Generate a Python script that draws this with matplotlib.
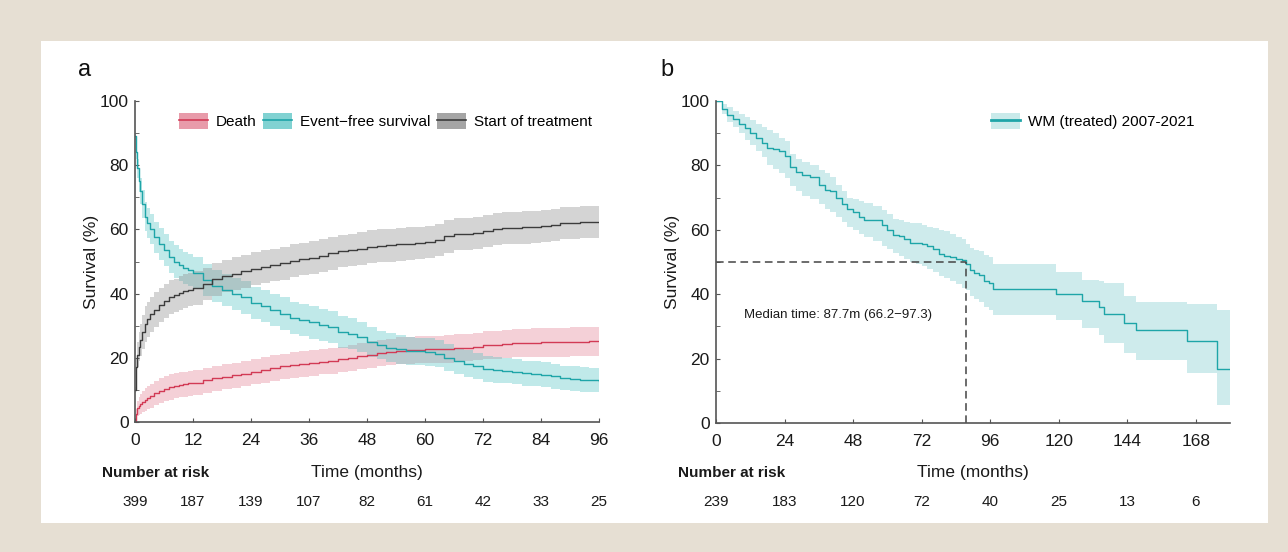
import matplotlib.pyplot as plt
from matplotlib.patches import Patch, Rectangle
from matplotlib.lines import Line2D
import numpy as np

plt.rcParams.update({
    'font.family': ['Liberation Sans', 'DejaVu Sans'],
    'font.size': 11,
})

# panel a: cumulative curves (%)
t_a = [0, 0.25, 0.5, 0.75, 1, 1.5, 2, 2.5, 3, 4, 5, 6, 7, 8, 9, 10, 11, 12,
       14, 16, 18, 20, 22, 24, 26, 28, 30, 32, 34, 36, 38, 40, 42, 44, 46, 48, 50, 52, 54, 56,
       58, 60, 62, 64, 66, 68, 70, 72, 74, 76, 78, 80, 82, 84, 86, 88, 90, 92, 94, 96]
death = [0, 2.5, 4.3, 5, 5.6, 6.3, 7, 7.5, 8, 9, 9.8, 10.4, 10.9, 11.3, 11.6, 11.8, 12, 12.2,
         13, 13.6, 14.1, 14.5, 15, 15.6, 16.3, 16.9, 17.3, 17.8, 18.1, 18.4, 18.8, 19.1, 19.5, 20, 20.5, 21, 21.5, 21.9, 22.2, 22.4,
         22.5, 22.6, 22.7, 22.8, 23, 23.2, 23.5, 23.9, 24.1, 24.3, 24.5, 24.6, 24.7, 24.8, 24.9, 24.9, 25, 25, 25.1, 25.1]
death_hw = [0, 1.5, 2.3, 2.8, 3, 3.3, 3.5, 3.6, 3.7, 3.8, 3.8, 3.9, 3.9, 3.9, 3.9, 3.9, 3.9, 3.9,
            3.9, 3.9, 3.9, 3.9, 3.9, 3.9, 4, 4, 4, 4, 4, 4, 4, 4, 4, 4, 4.1, 4.1, 4.1, 4.1, 4.2, 4.2,
            4.2, 4.2, 4.2, 4.3, 4.3, 4.3, 4.3, 4.4, 4.4, 4.4, 4.4, 4.4, 4.5, 4.5, 4.5, 4.5, 4.5, 4.5, 4.5, 4.5]
efs = [89, 84, 79, 75, 72, 68, 64, 62, 60, 57.5, 55.5, 53.5, 51.5, 50, 49, 48, 47.3, 46.5,
       44.2, 42.5, 41, 40, 38.8, 37.2, 36, 34.8, 33.8, 32.5, 31.8, 31, 30.2, 29.5, 28, 27.5, 26.5, 25, 24, 23.2, 22.6, 22.2,
       22, 21.8, 21.2, 20, 19, 18.2, 17.5, 16.5, 16.3, 16, 15.6, 15.2, 15, 14.7, 14.2, 13.8, 13.5, 13.2, 13, 12.8]
efs_hw = [1, 2, 3, 3.5, 4, 4.3, 4.5, 4.6, 4.7, 4.8, 4.9, 5, 5, 5, 5, 5, 5, 5,
          5, 5, 5, 5, 5, 5, 5, 5, 5, 5, 5, 5, 5, 5, 4.9, 4.8, 4.7, 4.6, 4.5, 4.4, 4.4, 4.3,
          4.3, 4.3, 4.2, 4.2, 4.1, 4.1, 4, 4, 4, 4, 3.9, 3.9, 3.9, 3.9, 3.8, 3.8, 3.8, 3.8, 3.8, 3.8]
treat = [10, 17, 21, 23.5, 25.5, 28, 30.5, 32, 33.5, 35, 36.5, 37.8, 38.8, 39.5, 40.2, 40.8, 41.2, 41.8,
         43, 44.5, 45.5, 46.2, 47, 47.8, 48.4, 48.9, 49.4, 50.2, 50.8, 51.2, 51.8, 52.5, 53.3, 53.6, 54, 54.6, 54.9, 55.1, 55.3, 55.6,
         55.9, 56.2, 56.8, 57.8, 58.5, 58.7, 59, 59.6, 60.1, 60.3, 60.5, 60.6, 60.8, 61.1, 61.5, 61.9, 62.1, 62.2, 62.2, 62.2]
treat_hw = [1, 3, 4, 4.5, 5, 5.3, 5.5, 5.5, 5.5, 5.5, 5.4, 5.3, 5.3, 5.2, 5.2, 5.2, 5.2, 5.2,
            5.1, 5.1, 5.1, 5.1, 5.1, 5.1, 5.1, 5.1, 5.1, 5.1, 5.1, 5.1, 5.1, 5.1, 5.1, 5.1, 5.1, 5.1, 5.1, 5.1, 5.1, 5.1,
            5, 5, 5, 5, 5, 5, 5, 5, 5, 5, 5, 5, 5, 5, 5, 5, 5, 5, 5, 5]
ticks_a = [0, 12, 24, 36, 48, 60, 72, 84, 96]
risk_a = [399, 187, 139, 107, 82, 61, 42, 33, 25]

# panel b: WM (treated) 2007-2021 Kaplan-Meier
t_b = [0, 2, 4, 6, 8, 10, 12, 14, 16, 18, 20, 22, 24, 26, 28, 30, 33, 36, 38, 40, 42, 44, 46, 48, 50, 52,
       55, 58, 60, 62, 64, 66, 68, 70, 72, 74, 76, 78, 80, 82, 84, 86, 87.7, 89, 90.5, 92, 94, 95.5, 97,
       119, 128, 134, 136, 143, 147, 165, 175.5, 180]
surv_b = [100, 97.5, 95.5, 94.5, 93, 91.5, 90, 88.5, 87, 85.5, 85, 84.5, 83, 79.5, 78, 77, 76.3, 74, 72.5, 72,
          70, 68, 66.5, 65.5, 64, 63,
          63, 61.5, 60, 58.5, 58, 57, 56, 56, 55.5, 55, 54, 52.5, 51.8, 51.5, 51, 50.5, 49.5, 47.5, 46.5, 46,
          44, 43.5, 41.5,
          40, 38, 36, 33.8, 31.2, 29, 25.6, 16.8, 16.8]
lo_b = [100, 96, 93.5, 92, 90, 88, 86.3, 84.6, 82.5, 80, 79, 77.5, 76, 73.5, 72, 70.5, 69.5, 68, 66.5, 65.5,
        64, 62.5, 61, 60, 58.8, 57.8,
        56.5, 55, 54, 52.8, 51.8, 50.8, 50, 49.5, 48.8, 47.8, 46.8, 45.5, 45, 44.2, 43.2, 42, 41.3, 39.5, 38.5,
        37.5, 36, 35, 33.5,
        32, 29.5, 27.3, 24.8, 21.7, 19.6, 15.5, 5.5, 5.5]
hi_b = [100, 99, 98, 97, 96, 95, 94, 93, 92, 91, 90, 88.5, 87.5, 83.5, 82, 81, 80, 78.5, 77.5, 76.5,
        74, 72, 70, 69.5, 68.8, 68.3,
        67.5, 66, 64.8, 63.5, 63, 62.5, 62.2, 62, 61.5, 61, 60.5, 60, 59.5, 58.8, 57.9, 57, 55.5, 54.5, 53.8,
        53.5, 52.2, 51.5, 49.5,
        47, 44.4, 44, 43.4, 39.5, 37.5, 37, 35, 35]
median_b = 87.7
ticks_b = [0, 24, 48, 72, 96, 120, 144, 168]
risk_b = [239, 183, 120, 72, 40, 25, 13, 6]

c_red, c_red_band = '#d23a55', '#e48a9b'
c_teal, c_teal_band = '#1ea5a8', '#4cc0c0'
c_gray, c_gray_band = '#3c3c3c', '#8f8f8f'
c_teal_b_band = '#a6dcdd'
c_text = '#1a1a1a'

fig = plt.figure(figsize=(12.88, 5.52), dpi=100, facecolor='#e6dfd3')
fig.patches.append(Rectangle((41 / 1288, 1 - 523 / 552), 1227 / 1288, 482 / 552,
                             transform=fig.transFigure, facecolor='white', edgecolor='none', zorder=-10))

ax_a = fig.add_axes([135 / 1288, 1 - 422 / 552, 464 / 1288, 321 / 552])
ax_b = fig.add_axes([716 / 1288, 1 - 423 / 552, 514 / 1288, 322 / 552])


def style_axes(ax, xticks, xmax):
    ax.set_xlim(0, xmax)
    ax.set_ylim(0, 100)
    ax.set_xticks(xticks)
    ax.set_yticks(np.arange(0, 101, 20))
    ax.set_yticks(np.arange(10, 100, 20), minor=True)
    ax.patch.set_alpha(0)
    for s in ['top', 'right']:
        ax.spines[s].set_visible(False)
    for s in ['left', 'bottom']:
        ax.spines[s].set_color('#555555')
        ax.spines[s].set_linewidth(1.2)
    ax.tick_params(axis='both', which='both', direction='in', length=3, color='#555555',
                   labelsize=12.5, labelcolor=c_text)
    ax.tick_params(axis='x', pad=8)
    ax.tick_params(axis='y', pad=4.5)
    ax.set_ylabel('Survival (%)', fontsize=12.5, color=c_text)


def risk_table(ax, xticks, risk, x_label, y_label, y_nums):
    ax.text(x_label, y_label, 'Number at risk', transform=ax.transAxes, fontsize=11,
            fontweight='bold', ha='left', va='center', color=c_text)
    ax.text(0.5, y_label, 'Time (months)', transform=ax.transAxes, fontsize=12.5,
            ha='center', va='center', color=c_text)
    for x, n in zip(xticks, risk):
        ax.text(x, y_nums, str(n), transform=ax.get_xaxis_transform(), fontsize=11,
                ha='center', va='center', color=c_text)


# panel a
for y, hw, c, cb, a in [(death, death_hw, c_red, c_red_band, 0.4),
                        (efs, efs_hw, c_teal, c_teal_band, 0.35),
                        (treat, treat_hw, c_gray, c_gray_band, 0.38)]:
    y = np.array(y)
    hw = np.array(hw)
    ax_a.fill_between(t_a, y - hw, y + hw, step='post', color=cb, alpha=a, linewidth=0)
    ax_a.step(t_a, y, where='post', color=c, lw=1.0)

style_axes(ax_a, ticks_a, 96)
ax_a.yaxis.set_label_coords(-0.078, 0.5)

handles_a = [(Patch(facecolor=c_red_band, alpha=0.85), Line2D([], [], color=c_red, lw=1.2)),
             (Patch(facecolor=c_teal_band, alpha=0.7), Line2D([], [], color=c_teal, lw=1.2)),
             (Patch(facecolor=c_gray_band, alpha=0.8), Line2D([], [], color=c_gray, lw=1.2))]
ax_a.legend(handles_a, ['Death', 'Event\u2212free survival', 'Start of treatment'],
            loc='upper right', bbox_to_anchor=(1.001, 0.987), ncol=3, frameon=False, fontsize=11,
            handlelength=1.9, handleheight=1.3, handletextpad=0.5, columnspacing=0.45, borderpad=0)
risk_table(ax_a, ticks_a, risk_a, -0.071, -0.158, -0.248)

# panel b
ax_b.fill_between(t_b, lo_b, hi_b, step='post', color=c_teal_b_band, alpha=0.55, linewidth=0)
ax_b.step(t_b, surv_b, where='post', color=c_teal, lw=1.0)
ax_b.plot([0, median_b], [50, 50], color='#444444', lw=1.1, dashes=(5, 3))
ax_b.plot([median_b, median_b], [0, 50], color='#444444', lw=1.1, dashes=(5, 3))
ax_b.text(9.7, 33.5, 'Median time: 87.7m (66.2\u221297.3)', fontsize=9.5, ha='left', va='center',
          color=c_text)

style_axes(ax_b, ticks_b, 180)
ax_b.yaxis.set_label_coords(-0.07, 0.5)

handles_b = [(Patch(facecolor=c_teal_b_band, alpha=0.6), Line2D([], [], color=c_teal, lw=2))]
ax_b.legend(handles_b, ['WM (treated) 2007-2021'], loc='upper right', bbox_to_anchor=(0.946, 0.987),
            frameon=False, fontsize=11, handlelength=1.9, handleheight=1.3, handletextpad=0.5, borderpad=0)
risk_table(ax_b, ticks_b, risk_b, -0.074, -0.154, -0.244)

fig.text(78 / 1288, 1 - 70 / 552, 'a', fontsize=17, ha='left', va='center', color='#111111')
fig.text(660 / 1288, 1 - 70 / 552, 'b', fontsize=17, ha='left', va='center', color='#111111')

fig.savefig('out.png', dpi=100, facecolor=fig.get_facecolor())
